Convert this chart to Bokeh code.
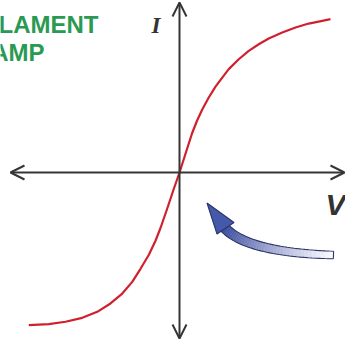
import numpy as np
from bokeh.plotting import figure
from bokeh.models import Range1d, Arrow, OpenHead
from bokeh.core.properties import value
from bokeh.embed import file_html
from bokeh.resources import INLINE

# ---- data (V in volts-like units, I in current-like units)
voltage = [-6.03, -5.23, -4.56, -3.89, -3.29, -2.76, -2.29, -1.89, -1.56, -1.23, -0.96,
           -0.76, -0.50, -0.25, 0.0, 0.25, 0.50, 0.70, 0.91, 1.17, 1.44, 1.71, 1.97,
           2.37, 2.77, 3.17, 3.57, 4.11, 4.64, 5.17, 5.71, 6.04]
current = [-1.018, -1.011, -0.995, -0.969, -0.929, -0.873, -0.807, -0.729, -0.642, -0.550,
           -0.455, -0.370, -0.245, -0.120, 0.0, 0.130, 0.260, 0.345, 0.420, 0.500, 0.572,
           0.633, 0.689, 0.755, 0.811, 0.855, 0.893, 0.933, 0.967, 0.993, 1.011, 1.022]
title_lines = ["FILAMENT", "LAMP"]
x_label = "V"
y_label = "I"

# ---- layout
W, H = 345, 344
PX_PER_V = 25.0
PX_PER_I = 150.0
OX, OY = 179.0, 172.0  # pixel position of the origin inside the plot


def d(px, py):
    """picture pixel -> data coordinates"""
    return ((px - OX) / PX_PER_V, (OY - py) / PX_PER_I)


p = figure(width=W, height=H, output_backend="svg", toolbar_location=None,
           x_range=Range1d(-OX / PX_PER_V, (W - OX) / PX_PER_V),
           y_range=Range1d(-(H - OY) / PX_PER_I, OY / PX_PER_I),
           min_border=0)
p.axis.visible = False
p.grid.visible = False
p.outline_line_color = None
p.background_fill_color = "white"
p.border_fill_color = "white"

AX = "#353535"
# axes with open arrow heads
xl, _ = d(10, 172)
xr, _ = d(344, 172)
_, yt = d(179, 2)
_, yb = d(179, 338)
p.add_layout(Arrow(x_start=xl, y_start=0, x_end=xr, y_end=0,
                   start=OpenHead(size=14, line_width=2, line_color=AX),
                   end=OpenHead(size=14, line_width=2, line_color=AX),
                   line_width=2, line_color=AX))
p.add_layout(Arrow(x_start=0, y_start=yb, x_end=0, y_end=yt,
                   start=OpenHead(size=14, line_width=2, line_color=AX),
                   end=OpenHead(size=14, line_width=2, line_color=AX),
                   line_width=2, line_color=AX))

# characteristic curve
p.line(voltage, current, line_color="#d0202e", line_width=2.2, line_join="round")

# curved blue arrow (annotation)
P0 = np.array([223.0, 226.0]); C = np.array([245.0, 252.0]); P2 = np.array([333.0, 254.5])
t = np.linspace(0, 1, 41)
pts = ((1 - t) ** 2)[:, None] * P0 + (2 * (1 - t) * t)[:, None] * C + (t ** 2)[:, None] * P2
tan = (2 * (1 - t))[:, None] * (C - P0) + (2 * t)[:, None] * (P2 - C)
tan /= np.linalg.norm(tan, axis=1)[:, None]
nrm = np.stack([-tan[:, 1], tan[:, 0]], axis=1)
hw = (5.0 - 1.2 * t)[:, None]
up = pts + nrm * hw
lo = pts - nrm * hw
c0 = np.array([52, 70, 155]); c1 = np.array([252, 252, 255])
xs, ys, cols = [], [], []
for i in range(len(t) - 1):
    quad = [up[i], up[i + 1], lo[i + 1], lo[i]]
    dq = [d(*q) for q in quad]
    xs.append([q[0] for q in dq]); ys.append([q[1] for q in dq])
    f = (t[i] + t[i + 1]) / 2
    c = (c0 + (c1 - c0) * f ** 1.1).astype(int)
    cols.append("#%02x%02x%02x" % tuple(c))
p.patches(xs, ys, fill_color=cols, line_color=cols, line_width=0.5)
OUT = "#2c3568"
for edge in (up, lo):
    de = [d(*q) for q in edge]
    p.line([q[0] for q in de], [q[1] for q in de], line_color=OUT, line_width=1.1)
de = [d(*up[-1]), d(*lo[-1])]
p.line([q[0] for q in de], [q[1] for q in de], line_color=OUT, line_width=1.1)
head = [d(206.5, 202.5), d(216.5, 233.5), d(233.5, 222)]
p.patch([q[0] for q in head], [q[1] for q in head], fill_color="#4459aa",
        line_color=OUT, line_width=1.1)

# texts
GREEN = "#2a9a52"
tx, ty = d(98, 24)
p.text(x=[tx], y=[ty], text=[title_lines[0]], text_font=value("Liberation Sans"),
       text_font_style="bold", text_font_size="24px", text_color=GREEN,
       text_align="right", text_baseline="alphabetic")
tx, ty = d(44, 52)
p.text(x=[tx], y=[ty], text=[title_lines[1]], text_font=value("Liberation Sans"),
       text_font_style="bold", text_font_size="24px", text_color=GREEN,
       text_align="right", text_baseline="alphabetic")
tx, ty = d(151, 25)
p.text(x=[tx], y=[ty], text=[y_label], text_font=value("Liberation Serif"),
       text_font_style="bold italic", text_font_size="23px", text_color="#333333",
       text_align="left", text_baseline="alphabetic")
tx, ty = d(325, 204)
p.text(x=[tx], y=[ty], text=[x_label], text_font=value("Liberation Sans"),
       text_font_style="bold italic", text_font_size="30px", text_color="#333333",
       text_align="left", text_baseline="alphabetic")

open("out.html", "w").write(file_html(p, INLINE))
